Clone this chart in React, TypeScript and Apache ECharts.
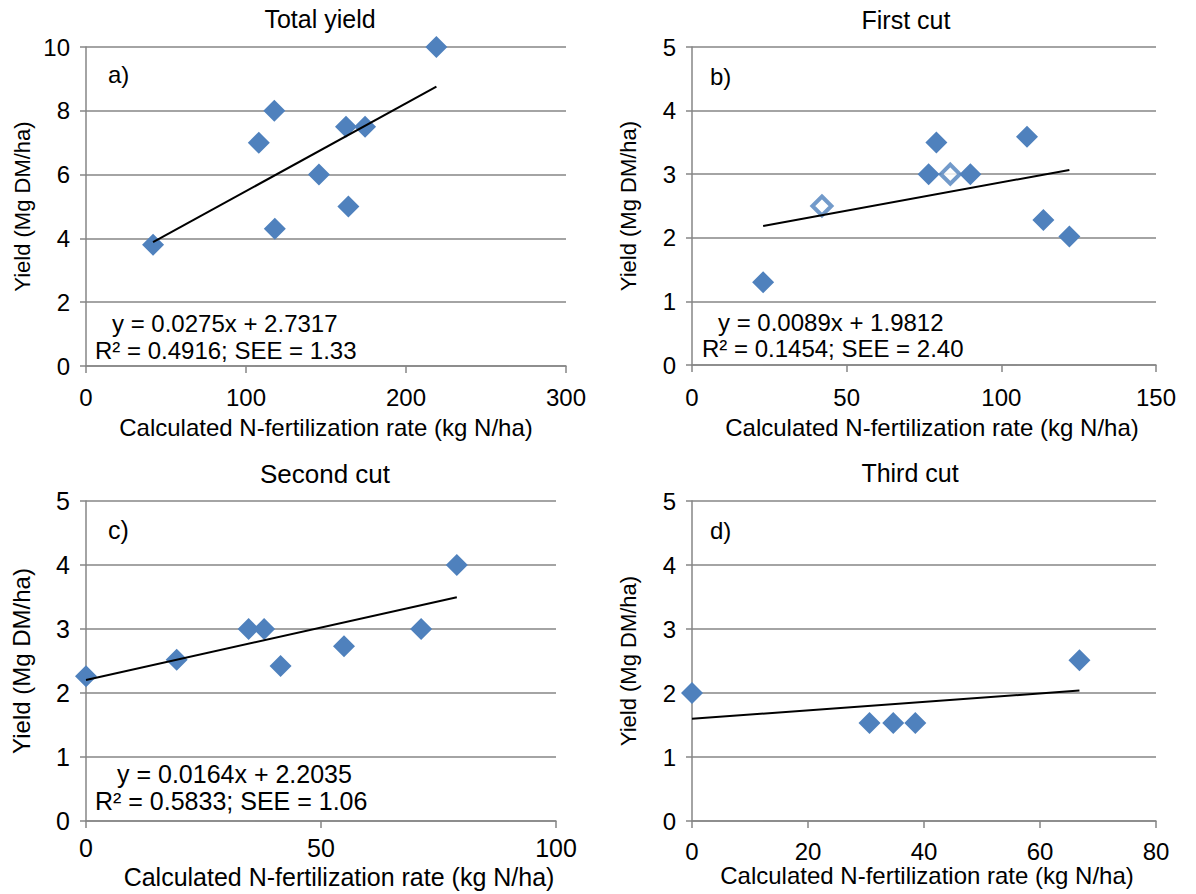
import React, { useEffect, useRef } from "react";
import * as echarts from "echarts";

// ---- Data ----
// a) Total yield
const aX = [41.9, 108, 117.7, 118, 145.6, 162.5, 174.4, 164, 219];
const aY = [3.8, 7.0, 8.0, 4.3, 6.0, 7.5, 7.5, 5.0, 10.0];
const aTrend = [0.0275, 2.7317]; // slope, intercept
// b) First cut (filled and open markers)
const bX = [23, 76.5, 79, 90, 108.3, 113.6, 122];
const bY = [1.3, 3.0, 3.5, 3.0, 3.59, 2.28, 2.02];
const bOpenX = [42, 83.5];
const bOpenY = [2.5, 3.0];
const bTrend = [0.0089, 1.9812];
// c) Second cut
const cX = [0, 19.3, 34.6, 37.9, 41.4, 54.9, 71.3, 78.9];
const cY = [2.26, 2.52, 3.0, 3.0, 2.42, 2.73, 3.0, 4.0];
const cTrend = [0.0164, 2.2035];
// d) Third cut
const dX = [0, 30.6, 34.7, 38.5, 66.8];
const dY = [2.0, 1.53, 1.53, 1.53, 2.51];
const dTrend = [0.0066, 1.598];

const titles = ["Total yield", "First cut", "Second cut", "Third cut"];
const panelLabels = ["a)", "b)", "c)", "d)"];
const eqLine1 = ["y = 0.0275x + 2.7317", "y = 0.0089x + 1.9812", "y = 0.0164x + 2.2035"];
const eqLine2 = ["R² = 0.4916; SEE = 1.33", "R² = 0.1454; SEE = 2.40", "R² = 0.5833; SEE = 1.06"];
const xMax = [300, 150, 100, 80];
const xInterval = [100, 50, 50, 20];
const yMax = [10, 5, 5, 5];
const yInterval = [2, 1, 1, 1];
const xName = "Calculated N-fertilization rate (kg N/ha)";
const yName = "Yield (Mg DM/ha)";

const FONT = "'Liberation Sans', Arial, sans-serif";
const BLUE = "#4F81BD";
const GRAY = "#868686";

function pairs(xs: number[], ys: number[]) {
  return xs.map((x, i) => [x, ys[i]]);
}
function trendLine(xs: number[], coef: number[]) {
  const lo = Math.min(...xs);
  const hi = Math.max(...xs);
  return [lo, hi].map((x) => [x, coef[0] * x + coef[1]]);
}

export default function App() {
  const ref = useRef<HTMLDivElement>(null);
  useEffect(() => {
    document.body.style.margin = "0";
    if (!ref.current) return;
    const chart = echarts.init(ref.current, null, { renderer: "svg" });

    const grids = [
      { left: 86, top: 47, width: 480, height: 319 },
      { left: 692, top: 47, width: 464, height: 318 },
      { left: 86, top: 501, width: 470, height: 320 },
      { left: 692, top: 501, width: 464, height: 320 },
    ];
    const tickFont = [24, 24, 25, 24];
    const xNameFont = [24, 24, 25, 24];
    const yNameFont = [22, 22, 24, 22];
    const xNameGap = [49, 50, 43, 41];
    const xLabelMargin = [19, 20, 14, 18];
    const xNamePad = [[0, 0, 0, 0], [0, 0, 0, 16], [0, 0, 0, 36], [0, 0, 0, 6]];

    const xAxes = grids.map((_, i) => ({
      type: "value",
      gridIndex: i,
      min: 0,
      max: xMax[i],
      interval: xInterval[i],
      name: xName,
      nameLocation: "middle",
      nameGap: xNameGap[i],
      nameTextStyle: {
        fontSize: xNameFont[i],
        color: "#000",
        fontFamily: FONT,
        padding: xNamePad[i],
      },
      axisLine: { show: true, lineStyle: { color: GRAY, width: 1.5 } },
      axisTick: { show: true, length: 7, lineStyle: { color: GRAY, width: 1.5 } },
      axisLabel: {
        fontSize: tickFont[i],
        color: "#000",
        fontFamily: FONT,
        margin: xLabelMargin[i],
      },
      splitLine: { show: false },
    }));
    const yAxes = grids.map((_, i) => ({
      type: "value",
      gridIndex: i,
      min: 0,
      max: yMax[i],
      interval: yInterval[i],
      name: yName,
      nameLocation: "middle",
      nameGap: 53,
      nameTextStyle: {
        fontSize: yNameFont[i],
        color: "#000",
        fontFamily: FONT,
      },
      axisLine: { show: true, lineStyle: { color: GRAY, width: 1.5 } },
      axisTick: { show: true, length: 6, lineStyle: { color: GRAY, width: 1.5 } },
      axisLabel: {
        fontSize: tickFont[i],
        color: "#000",
        fontFamily: FONT,
        margin: 16,
      },
      splitLine: { show: true, lineStyle: { color: GRAY, width: 1.5 } },
    }));

    const scatterBase = {
      type: "scatter",
      symbol: "diamond",
      symbolSize: 22,
      z: 2,
      itemStyle: { color: BLUE, opacity: 1 },
    };
    const lineBase = {
      type: "line",
      symbol: "none",
      z: 5,
      lineStyle: { color: "#000", width: 2 },
    };
    const allX = [aX, [...bX, ...bOpenX], cX, dX];
    const coefs = [aTrend, bTrend, cTrend, dTrend];
    const series: any[] = [
      { ...scatterBase, xAxisIndex: 0, yAxisIndex: 0, data: pairs(aX, aY) },
      { ...scatterBase, xAxisIndex: 1, yAxisIndex: 1, data: pairs(bX, bY) },
      {
        ...scatterBase,
        xAxisIndex: 1,
        yAxisIndex: 1,
        symbolSize: 19,
        data: pairs(bOpenX, bOpenY),
        itemStyle: { color: "#fff", borderColor: BLUE, borderWidth: 4 },
      },
      { ...scatterBase, xAxisIndex: 2, yAxisIndex: 2, data: pairs(cX, cY) },
      { ...scatterBase, xAxisIndex: 3, yAxisIndex: 3, data: pairs(dX, dY) },
    ];
    coefs.forEach((c, i) => {
      series.push({ ...lineBase, xAxisIndex: i, yAxisIndex: i, data: trendLine(allX[i], c) });
    });

    const txt = (x: number, y: number, text: string, size: number, align = "left") => ({
      type: "text",
      x,
      y,
      style: {
        text,
        fontSize: size,
        fontFamily: FONT,
        fill: "#000",
        textAlign: align,
        textVerticalAlign: "middle",
      },
    });

    const graphic = [
      txt(320, 19, titles[0], 25, "center"),
      txt(906, 20, titles[1], 25, "center"),
      txt(325, 474, titles[2], 26, "center"),
      txt(910, 473, titles[3], 25, "center"),
      txt(108, 74, panelLabels[0], 24),
      txt(710, 76, panelLabels[1], 24),
      txt(108, 530, panelLabels[2], 25),
      txt(710, 530, panelLabels[3], 24),
      txt(112, 323, eqLine1[0], 24),
      txt(95, 350, eqLine2[0], 24),
      txt(718, 322, eqLine1[1], 24),
      txt(702, 348, eqLine2[1], 24),
      txt(117, 774, eqLine1[2], 25),
      txt(95, 801, eqLine2[2], 25),
    ];

    chart.setOption({
      animation: false,
      backgroundColor: "#fff",
      grid: grids,
      xAxis: xAxes,
      yAxis: yAxes,
      series,
      graphic,
    });
    return () => chart.dispose();
  }, []);
  return <div ref={ref} style={{ width: 1196, height: 894 }} />;
}
